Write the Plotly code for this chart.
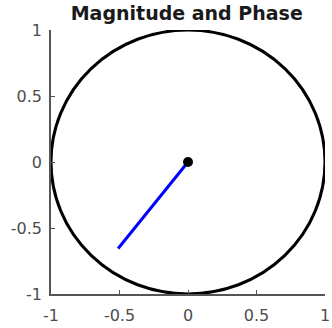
import plotly.graph_objects as go

# Phasor tip (real, imaginary) and unit-circle bounds
phasor_re = [0.0, -0.51]
phasor_im = [0.0, -0.655]
origin = [0.0]
circle_bounds = [-1, 1]
tick_vals = [-1, -0.5, 0, 0.5, 1]
tick_text = ["-1", "-0.5", "0", "0.5", "1"]

fig = go.Figure()

# Unit circle
fig.add_shape(type="circle", xref="x", yref="y",
              x0=circle_bounds[0], x1=circle_bounds[1],
              y0=circle_bounds[0], y1=circle_bounds[1],
              line=dict(color="black", width=3), layer="below")

# Phasor line
fig.add_trace(go.Scatter(x=phasor_re, y=phasor_im, mode="lines",
                         line=dict(color="#0000ff", width=3),
                         hoverinfo="skip", showlegend=False))

# Origin marker
fig.add_trace(go.Scatter(x=origin, y=origin, mode="markers",
                         marker=dict(color="black", size=10),
                         hoverinfo="skip", showlegend=False))

axis_common = dict(
    range=[-1, 1], tickvals=tick_vals, ticktext=tick_text,
    showgrid=False, zeroline=False, showline=True, mirror=False,
    linecolor="#555555", linewidth=1.5,
    ticks="inside", ticklen=4, tickcolor="#555555", tickwidth=1,
    tickfont=dict(family="DejaVu Sans", size=16, color="#4d4d4d"),
    automargin=False,
)

fig.update_layout(
    width=332, height=328,
    margin=dict(l=51, r=7, t=30, b=34),
    paper_bgcolor="white", plot_bgcolor="white",
    title=dict(text="<b>Magnitude and Phase</b>", x=0.5625, xanchor="center",
               y=0.96, yanchor="middle",
               font=dict(family="DejaVu Sans", size=19, color="#1a1a1a")),
    xaxis=dict(**axis_common, ticklabelstandoff=6),
    yaxis=dict(**axis_common, ticklabelstandoff=4),
)

fig.write_html("out.html")
